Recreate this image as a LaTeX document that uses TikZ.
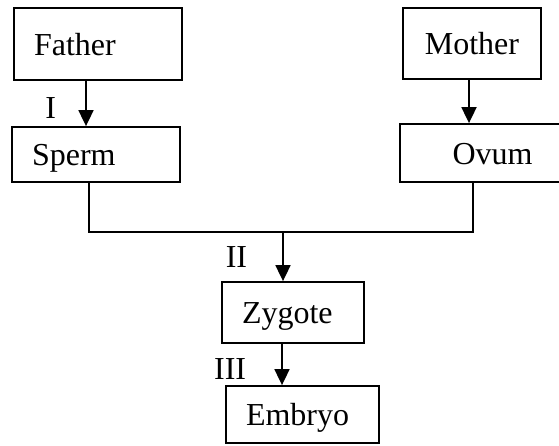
\documentclass[tikz,border=0pt]{standalone}
\usepackage{fontspec}
\setmainfont{Liberation Serif}
\usetikzlibrary{arrows.meta,positioning}

\begin{document}
\begin{tikzpicture}[
  x=1pt, y=-1pt,
  box/.style={draw,line width=1.8pt,font=\fontsize{32}{36}\selectfont,inner xsep=20pt,inner ysep=0pt,text height=22pt,text depth=0pt,align=left},
  lbl/.style={font=\fontsize{32}{36}\selectfont,inner sep=0pt},
  line/.style={line width=1.8pt},
  arr/.style={line,-{Triangle[length=16pt,width=15pt]}},
]
\useasboundingbox (0,0) rectangle (559,445);

\node[box,text width=128pt,minimum height=72pt] (father) at (98,44) {Father};
\node[box,text width=98pt,minimum height=71pt,align=center] (mother) at (472,43.5) {Mother};
\node[box,text width=128pt,minimum height=55pt] (sperm) at (96,154.5) {Sperm};
\node[box,text width=145pt,minimum height=58pt,align=center] (ovum) at (492.5,153) {Ovum};
\node[box,text width=102pt,minimum height=61pt] (zygote) at (293,312.5) {Zygote};
\node[box,text width=113pt,minimum height=57pt] (embryo) at (302.5,414.5) {Embryo};
\coordinate (join) at (283,232);

\draw[arr] ([xshift=-12pt]father.south) -- node[lbl,pos=0.6,left=29pt] (l1) {I} ([xshift=-12pt]father.south |- sperm.north);
\draw[arr] ([xshift=-3pt]mother.south) -- ([xshift=-3pt]mother.south |- ovum.north);
\draw[line] ([xshift=-7pt]sperm.south) |- (join) -| ([xshift=-19.5pt]ovum.south);
\draw[arr] (join) -- node[lbl,left=35pt] (l2) {II} (join |- zygote.north);
\draw[arr] ([xshift=-11pt]zygote.south) -- node[lbl,pos=0.6,left=35pt] (l3) {III} ([xshift=-11pt]zygote.south |- embryo.north);
\end{tikzpicture}
\end{document}
